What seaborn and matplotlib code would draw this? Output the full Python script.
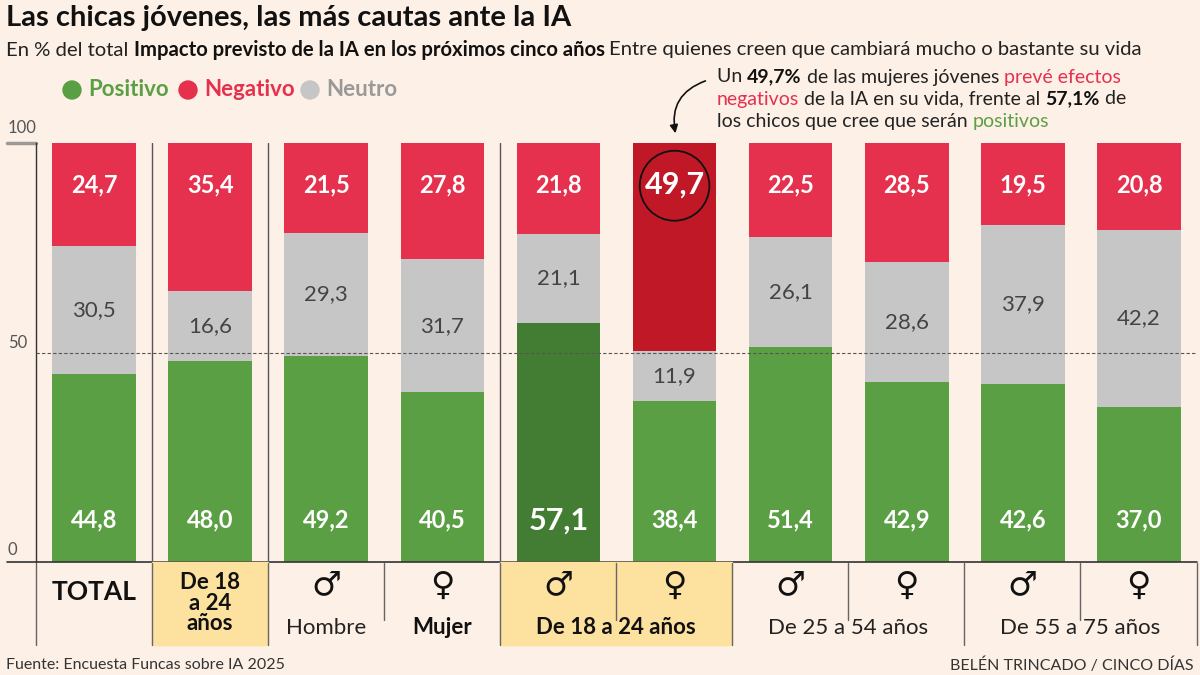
import matplotlib
matplotlib.use("Agg")
import matplotlib.pyplot as plt
import seaborn as sns
import pandas as pd
import numpy as np
from matplotlib.patches import Rectangle, Ellipse

sns.set_theme(style="white")
plt.rcParams['font.family'] = ['Lato', 'DejaVu Sans']

groups = ["TOTAL", "De 18 a 24", "Hombre", "Mujer", "H 18-24", "M 18-24", "H 25-54", "M 25-54", "H 55-75", "M 55-75"]
positivo = [44.8, 48.0, 49.2, 40.5, 57.1, 38.4, 51.4, 42.9, 42.6, 37.0]
neutro = [30.5, 16.6, 29.3, 31.7, 21.1, 11.9, 26.1, 28.6, 37.9, 42.2]
negativo = [24.7, 35.4, 21.5, 27.8, 21.8, 49.7, 22.5, 28.5, 19.5, 20.8]

BG = "#fdf0e6"
GREEN, DGREEN = "#5b9f45", "#437d33"
RED, DRED = "#e5304e", "#c01826"
GREY = "#c6c6c6"

df = pd.DataFrame({"g": groups, "pos": positivo, "neu": neutro, "neg": negativo})
df["top"] = df.pos + df.neu + df.neg
df["mid"] = df.pos + df.neu

fig = plt.figure(figsize=(12, 6.75), dpi=100, facecolor=BG)
W, H = 1200, 675
ax = fig.add_axes([36/W, 1-562/H, 1161/W, 419/H])
ax.set_facecolor(BG)

red_pal = [RED]*10; red_pal[5] = DRED
green_pal = [GREEN]*10; green_pal[4] = DGREEN
kw = dict(x="g", order=groups, hue="g", legend=False, width=0.72, saturation=1, ax=ax, linewidth=0)
sns.barplot(data=df, y="top", palette=red_pal, **kw)
sns.barplot(data=df, y="mid", palette=[GREY]*10, **kw)
sns.barplot(data=df, y="pos", palette=green_pal, **kw)

ax.set_xlim(-0.5, 9.5)
ax.set_ylim(0, 100)
ax.set_xlabel(""); ax.set_ylabel("")
ax.set_xticks([]); ax.set_yticks([])
for s in ["top", "right", "bottom"]:
    ax.spines[s].set_visible(False)
ax.spines["left"].set_color("#333333")
ax.spines["left"].set_linewidth(1)
ax.axhline(50, color="#555555", lw=0.8, ls=(0, (3, 2)), zorder=5)
ax.plot([-0.75, -0.5], [100, 100], color="#999999", lw=2.5, clip_on=False)
ax.plot([-0.75, 9.5], [0, 0], color="#333333", lw=1.2, clip_on=False)
for xv in [0.5, 1.5, 3.5]:
    ax.axvline(xv, color="#555555", lw=1)

fmt = lambda v: f"{v:.1f}".replace(".", ",")
for i in range(10):
    p, n, g = positivo[i], neutro[i], negativo[i]
    ax.text(i, 10, fmt(p), ha="center", va="center", color="white", fontsize=22 if i == 4 else 17, fontweight="bold")
    ax.text(i, p + n/2, fmt(n), ha="center", va="center", color="#444444", fontsize=16)
    ax.text(i, 100 - 10, fmt(g), ha="center", va="center", color="white", fontsize=22 if i == 5 else 17, fontweight="bold")
ax.add_patch(Ellipse((5, 89.8), 0.6, 16.7, fill=False, ec="#111111", lw=1.3, zorder=6))

fig.text(8/W, 1-128/H, "100", fontsize=12, color="#555555", va="center")
fig.text(8/W, 1-343/H, "50", fontsize=12, color="#555555", va="center")
fig.text(8/W, 1-550/H, "0", fontsize=12, color="#555555", va="center")

def fx(x): return x / W
def fy(y): return 1 - y / H
for x0, x1 in [(152, 268), (500, 732)]:
    fig.patches.append(Rectangle((fx(x0), fy(645)), (x1-x0)/W, 83/H, transform=fig.transFigure, color="#fde19f", zorder=0))
for x in [36, 152, 268, 500, 732, 964, 1197]:
    fig.lines.append(plt.Line2D([fx(x), fx(x)], [fy(563), fy(645)], transform=fig.transFigure, color="#666666", lw=1))
for x in [384, 616, 848, 1080]:
    fig.lines.append(plt.Line2D([fx(x), fx(x)], [fy(563), fy(620)], transform=fig.transFigure, color="#666666", lw=1))

fig.text(fx(94), fy(592), "TOTAL", ha="center", va="center", fontsize=19, fontweight="bold", color="#111111")
fig.text(fx(210), fy(603), "De 18\na 24\naños", ha="center", va="center", fontsize=16, fontweight="bold", color="#111111", linespacing=0.95)
sym = ["♂", "♀"]
for i, x in enumerate([326, 442, 558, 674, 790, 906, 1022, 1138]):
    fig.text(fx(x), fy(585), sym[i % 2], ha="center", va="center", fontsize=24, color="#111111", family="DejaVu Sans")
fig.text(fx(326), fy(628), "Hombre", ha="center", va="center", fontsize=16, color="#222222")
fig.text(fx(442), fy(628), "Mujer", ha="center", va="center", fontsize=16, fontweight="bold", color="#111111")
fig.text(fx(616), fy(628), "De 18 a 24 años", ha="center", va="center", fontsize=16, fontweight="bold", color="#111111")
fig.text(fx(848), fy(628), "De 25 a 54 años", ha="center", va="center", fontsize=16, color="#222222")
fig.text(fx(1080), fy(628), "De 55 a 75 años", ha="center", va="center", fontsize=16, color="#222222")

fig.text(fx(6), fy(18), "Las chicas jóvenes, las más cautas ante la IA", fontsize=21, fontweight="bold", color="#111111", va="center")

fig.canvas.draw()
r = fig.canvas.get_renderer()

def chain(x, y, parts, size):
    for txt, c, w in parts:
        t = fig.text(fx(x), fy(y), txt, fontsize=size, color=c, fontweight=w, va="center")
        x += t.get_window_extent(r).width
    return x

chain(6, 50, [("En % del total ", "#222222", "normal"),
              ("Impacto previsto de la IA en los próximos cinco años ", "#111111", "bold"),
              ("Entre quienes creen que cambiará mucho o bastante su vida", "#222222", "normal")], 14.6)

for x, lab, c in [(62, "Positivo", GREEN), (178, "Negativo", RED), (300, "Neutro", GREY)]:
    fig.patches.append(Ellipse((fx(x+10), fy(90)), 18/W, 18/H, transform=fig.transFigure, color=c))
    fig.text(fx(x+26), fy(90), lab, fontsize=16, fontweight="bold", color=c if c != GREY else "#999999", va="center")

ann = [
    [("Un ", "#222222", "normal"), ("49,7%", "#111111", "bold"), (" de las mujeres jóvenes ", "#222222", "normal"), ("prevé efectos", RED, "normal")],
    [("negativos", RED, "normal"), (" de la IA en su vida, frente al ", "#222222", "normal"), ("57,1%", "#111111", "bold"), (" de", "#222222", "normal")],
    [("los chicos que cree que serán ", "#222222", "normal"), ("positivos", GREEN, "normal")],
]
for li, line in enumerate(ann):
    chain(717, 77 + li * 22, line, 14)
fig.patches.append(matplotlib.patches.FancyArrowPatch((fx(708), fy(80)), (fx(676), fy(136)), transform=fig.transFigure,
                   connectionstyle="arc3,rad=0.45", arrowstyle="-|>", mutation_scale=12, color="#111111", lw=1.2))

fig.text(fx(6), fy(665), "Fuente: Encuesta Funcas sobre IA 2025", fontsize=11.5, color="#333333", va="center")
fig.text(fx(1194), fy(665), "BELÉN TRINCADO / CINCO DÍAS", fontsize=11.5, color="#333333", va="center", ha="right")

fig.savefig("out.png", dpi=100, facecolor=BG)
